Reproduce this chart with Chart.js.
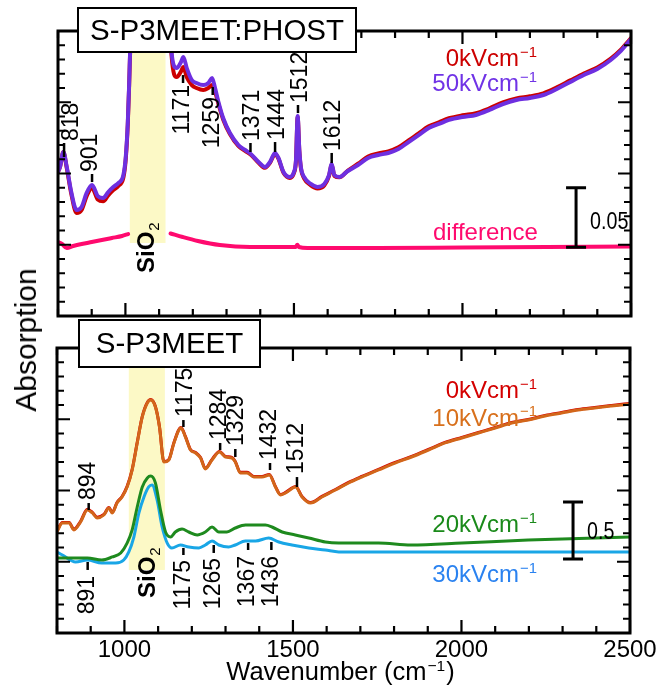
<!DOCTYPE html>
<html><head><meta charset="utf-8">
<script src="https://cdn.jsdelivr.net/npm/chart.js@4/dist/chart.umd.min.js"></script>
<style>
html,body{margin:0;padding:0;background:#fff;}
#wrap{position:relative;width:659px;height:696px;overflow:hidden;background:#fff;}
canvas{position:absolute;left:0;}
#cTop{top:0;}
#cBot{top:318px;}
#ylab{position:absolute;left:26px;top:340px;transform:translate(-50%,-50%) rotate(-90deg);font:30px 'Liberation Sans',Arial,sans-serif;white-space:nowrap;color:#000;}
</style></head>
<body><div id="wrap"><canvas id="cTop" width="659" height="322"></canvas><canvas id="cBot" width="659" height="378"></canvas><div id="ylab">Absorption</div></div>
<script>
const FONT = "'Liberation Sans', Arial, Helvetica, sans-serif";

// ---------------- data ----------------
// Upper panel: S-P3MEET:PHOST
const topWavenumbers = [800,806,816,826,840,855,870,885,901,918,934,949,964,979,994,1001,1007,1011,1015,1020,1026,1125,1130,1137,1152,1165,1172,1182,1197,1211,1231,1246,1257,1266,1276,1290,1310,1335,1355,1372,1395,1414,1429,1444,1454,1469,1488,1500,1506,1511,1516,1521,1530,1550,1570,1590,1604,1612,1620,1635,1660,1690,1720,1750,1780,1810,1840,1870,1900,1930,1960,2000,2040,2080,2120,2160,2200,2240,2280,2320,2360,2400,2440,2470,2500];
const top50kV = [0.1213,0.1255,0.1381,0.1255,0.1036,0.0893,0.0918,0.1036,0.1103,0.1010,
0.0994,0.1044,0.1086,0.1120,0.1187,0.1339,0.1625,0.1945,0.2324,0.2577,
0.30,0.30,0.26,0.2215,0.2088,0.2139,0.2181,0.2088,0.1987,0.1962,
0.1945,0.1962,0.2004,0.1920,0.1802,0.1667,0.1541,0.1440,0.1398,0.1364,
0.1297,0.1255,0.1297,0.1373,0.1331,0.1213,0.1171,0.1213,0.1314,0.1684,
0.1398,0.1246,0.1171,0.1112,0.1086,0.1112,0.1187,0.1280,0.1187,0.1171,
0.1221,0.1272,0.1331,0.1356,0.1373,0.1406,0.1465,0.1524,0.1583,0.1617,
0.1651,0.1676,0.1693,0.1735,0.1785,0.1819,0.1836,0.1861,0.1912,0.1971,
0.2029,0.2080,0.2156,0.2232,0.2333];
const top0kV = [0.1213,0.1255,0.1381,0.1245,0.1020,0.0868,0.0893,0.1010,0.1078,0.0980,
0.0966,0.1016,0.1060,0.1095,0.1165,0.1320,0.1610,0.1935,0.2315,0.2577,
0.30,0.30,0.26,0.2190,0.2012,0.2060,0.2097,0.2010,0.1945,0.1920,
0.1903,0.1920,0.1945,0.1890,0.1785,0.1655,0.1532,0.1432,0.1390,0.1358,
0.1290,0.1248,0.1290,0.1365,0.1325,0.1206,0.1163,0.1205,0.1305,0.1676,
0.1390,0.1238,0.1160,0.1100,0.1074,0.1100,0.1178,0.1272,0.1180,0.1168,
0.1225,0.1282,0.1343,0.1369,0.1386,0.1420,0.1478,0.1538,0.1597,0.1631,
0.1665,0.1690,0.1707,0.1749,0.1799,0.1833,0.1850,0.1875,0.1925,0.1984,
0.2042,0.2093,0.2168,0.2243,0.2340];
const diffWavenumbers = [800,812,826,845,870,900,930,960,990,1008,1011,1130,1134,1170,1215,1280,1370,1450,1505,1510,1515,1540,1750,2000,2250,2500];
const diffValues = [0.0623,0.0606,0.0573,0.0589,0.0606,0.0623,0.0640,0.0657,0.0674,0.0690,null,null,0.0695,0.0665,0.0632,0.0598,0.0581,0.0581,0.0581,0.0600,0.0581,0.0573,0.0573,0.0577,0.0581,0.0585];

// Lower panel: S-P3MEET
const botWavenumbers = [800,816,836,850,870,890,905,919,939,954,964,978,993,1008,1023,1038,1053,1068,1078,1092,1104,1117,1132,1147,1168,1181,1196,1211,1226,1240,1260,1282,1300,1319,1329,1344,1364,1384,1408,1430,1448,1463,1478,1508,1527,1552,1586,1626,1665,1704,1754,1803,1852,1902,1951,2001,2050,2100,2149,2198,2248,2297,2346,2395,2445,2500];
const bot10kV = [0.889,0.965,0.965,0.904,0.974,1.079,1.053,1.009,1.035,1.096,
1.053,1.140,1.193,1.281,1.430,1.667,1.895,2.018,2.044,1.982,
1.807,1.500,1.518,1.667,1.798,1.719,1.605,1.579,1.535,1.439,
1.518,1.588,1.544,1.535,1.500,1.404,1.404,1.368,1.368,1.386,
1.281,1.211,1.228,1.281,1.193,1.140,1.193,1.254,1.316,1.368,
1.430,1.491,1.544,1.605,1.667,1.711,1.754,1.798,1.842,1.868,
1.904,1.930,1.956,1.974,1.991,2.009];
const bot0kV = [0.895,0.970,0.970,0.910,0.980,1.085,1.058,1.015,1.040,1.100,
1.058,1.145,1.198,1.286,1.435,1.672,1.900,2.023,2.049,1.987,
1.812,1.505,1.523,1.672,1.803,1.724,1.610,1.584,1.540,1.444,
1.523,1.593,1.549,1.540,1.505,1.409,1.409,1.373,1.373,1.391,
1.286,1.216,1.233,1.286,1.198,1.145,1.198,1.259,1.321,1.373,
1.435,1.496,1.549,1.610,1.672,1.716,1.759,1.803,1.847,1.873,
1.909,1.935,1.961,1.979,1.996,2.014];
const bot20kVWavenumbers = [800,836,890,933,964,989,1008,1023,1038,1053,1068,1078,1092,1107,1122,1137,1151,1171,1191,1216,1240,1260,1280,1304,1329,1359,1389,1418,1438,1468,1507,1547,1596,1636,1754,1850,2001,2198,2500];
const bot20kV = [0.658,0.658,0.658,0.640,0.667,0.702,0.789,0.904,1.105,1.281,
1.360,1.377,1.316,1.079,0.886,0.842,0.886,0.912,0.886,0.860,
0.886,0.930,0.886,0.886,0.921,0.947,0.947,0.947,0.930,0.886,
0.860,0.833,0.798,0.789,0.789,0.772,0.789,0.816,0.842];
const bot30kVWavenumbers = [800,816,855,890,933,974,998,1013,1028,1043,1058,1072,1082,1097,1112,1127,1141,1166,1191,1221,1240,1260,1280,1309,1329,1359,1389,1428,1458,1497,1547,1596,1636,2000,2500];
const bot30kV = [0.711,0.684,0.623,0.640,0.614,0.614,0.640,0.711,0.842,1.053,
1.193,1.281,1.298,1.167,0.930,0.789,0.746,0.772,0.754,0.746,
0.772,0.807,0.772,0.754,0.772,0.807,0.807,0.833,0.798,0.772,
0.746,0.728,0.711,0.711,0.711];

// tick labels, titles and annotation texts
const xTickLabels = [1000, 1500, 2000, 2500];
const panelTitles = ['S-P3MEET:PHOST', 'S-P3MEET'];
const topPeakWavenumbers = [818, 901, 1171, 1259, 1371, 1444, 1512, 1612];
const botUpperPeakWavenumbers = [894, 1175, 1284, 1329, 1432, 1512];
const botLowerPeakWavenumbers = [891, 1175, 1265, 1367, 1436];
const topSeriesNames = ['0kVcm', '50kVcm', 'difference'];
const botSeriesNames = ['0kVcm', '10kVcm', '20kVcm', '30kVcm'];
const scaleBarValues = [0.05, 0.5];

// ---------------- annotation layout (positions, not data) ----------------
const topPeakMarks = [
  {y0:0.1339, y1:0.1457, side:'up',   dx:8, gap:2},
  {y0:0.1128, y1:0.1196, side:'up',   dx:-1, gap:2},
  {y0:0.1962, y1:0.2029, side:'down', dx:0, gap:2},
  {y0:0.1861, y1:0.1928, side:'down', dx:0, gap:2},
  {y0:0.1381, y1:0.1457, side:'up',   dx:2, gap:2},
  {y0:0.1381, y1:0.1465, side:'up',   dx:3, gap:2},
  {y0:0.1709, y1:0.1777, side:'up',   dx:3, gap:2},
  {y0:0.1288, y1:0.1373, side:'up',   dx:2, gap:2}
];
const botUpperMarks = [
  {y0:1.079, y1:1.140, side:'up', dx:0, gap:3},
  {y0:1.807, y1:1.868, side:'up', dx:2, gap:3},
  {y0:1.605, y1:1.667, side:'up', dx:0, gap:3},
  {y0:1.544, y1:1.614, side:'up', dx:1, gap:3},
  {y0:1.430, y1:1.491, side:'up', dx:0, gap:3},
  {y0:1.281, y1:1.368, side:'up', dx:0, gap:3}
];
const botLowerMarks = [
  {y0:0.553, y1:0.623, side:'down', dx:0, gap:6},
  {y0:0.684, y1:0.746, side:'down', dx:0, gap:5},
  {y0:0.702, y1:0.772, side:'down', dx:0, gap:5},
  {y0:0.728, y1:0.789, side:'down', dx:0, gap:6},
  {y0:0.728, y1:0.798, side:'down', dx:0, gap:6}
];

function pts(xs, ys) { return xs.map((v, i) => ({x: v, y: ys[i]})); }

function drawSupLabel(ctx, main, sup, xRight, yMid, color, size) {
  ctx.save();
  ctx.textAlign = 'left'; ctx.textBaseline = 'alphabetic'; ctx.fillStyle = color;
  ctx.font = size + 'px ' + FONT;
  const w1 = ctx.measureText(main).width;
  const ss = size * 0.62;
  ctx.font = ss + 'px ' + FONT;
  const w2 = sup ? ctx.measureText(sup).width + 1 : 0;
  const x0 = xRight - w1 - w2;
  const base = yMid + size * 0.36;
  ctx.font = size + 'px ' + FONT;
  ctx.fillText(main, x0, base);
  if (sup) { ctx.font = ss + 'px ' + FONT; ctx.fillText(sup, x0 + w1 + 1, base - size * 0.38); }
  ctx.restore();
}

const decoPlugin = {
  id: 'deco',
  beforeDatasetsDraw(chart, args, o) {
    const {ctx, chartArea: a} = chart; const x = chart.scales.x, y = chart.scales.y;
    ctx.save();
    ctx.fillStyle = '#fcf9c6';
    const x0 = x.getPixelForValue(o.band.from), x1 = x.getPixelForValue(o.band.to);
    const y0 = o.band.top === null ? a.top : y.getPixelForValue(o.band.top);
    const y1 = y.getPixelForValue(o.band.bottom);
    ctx.fillRect(x0, y0, x1 - x0, y1 - y0);
    ctx.restore();
  },
  afterDatasetsDraw(chart, args, o) {
    const {ctx, chartArea: a} = chart; const x = chart.scales.x, y = chart.scales.y;
    ctx.save();
    ctx.strokeStyle = '#000'; ctx.fillStyle = '#000';
    // inward ticks on all four sides
    ctx.lineWidth = 2.2; ctx.lineCap = 'butt';
    ctx.beginPath();
    for (let v = o.xTicks.min; v <= o.xTicks.max; v += o.xTicks.minor) {
      const px = x.getPixelForValue(v);
      const L = (v % o.xTicks.major === 0) ? 13 : 7;
      ctx.moveTo(px, a.bottom); ctx.lineTo(px, a.bottom - L);
      ctx.moveTo(px, a.top); ctx.lineTo(px, a.top + L);
    }
    for (let i = 0; i <= o.yTicks.count; i++) {
      const py = y.getPixelForValue(o.yTicks.min + i * o.yTicks.minor);
      const L = (i % o.yTicks.every === 0) ? 13 : 7;
      ctx.moveTo(a.left, py); ctx.lineTo(a.left + L, py);
      ctx.moveTo(a.right, py); ctx.lineTo(a.right - L, py);
    }
    ctx.stroke();
    // frame
    ctx.lineWidth = 3;
    ctx.strokeRect(a.left, a.top, a.right - a.left, a.bottom - a.top);
    // peak marks + labels
    ctx.lineWidth = 2.5;
    o.peaks.forEach(p => {
      const px = x.getPixelForValue(p.wn);
      const pa = y.getPixelForValue(p.y0), pb = y.getPixelForValue(p.y1);
      const t = Math.min(pa, pb), b = Math.max(pa, pb);
      ctx.beginPath(); ctx.moveTo(px, t); ctx.lineTo(px, b); ctx.stroke();
      ctx.save();
      ctx.font = '23px ' + FONT; ctx.textBaseline = 'middle'; ctx.fillStyle = '#000';
      if (p.side === 'up') { ctx.translate(px + p.dx, t - p.gap); ctx.textAlign = 'left'; }
      else { ctx.translate(px + p.dx, b + p.gap); ctx.textAlign = 'right'; }
      ctx.rotate(-Math.PI / 2);
      ctx.fillText(String(p.wn), 0, 0);
      ctx.restore();
    });
    // SiO2 label
    ctx.save();
    ctx.translate(x.getPixelForValue(o.sio2.x), y.getPixelForValue(o.sio2.y));
    ctx.rotate(-Math.PI / 2);
    ctx.fillStyle = '#000'; ctx.textAlign = 'left'; ctx.textBaseline = 'alphabetic';
    ctx.font = 'bold 24px ' + FONT;
    ctx.fillText('SiO', 0, 0);
    const w = ctx.measureText('SiO').width;
    ctx.font = '15px ' + FONT;
    ctx.fillText('2', w + 1, 5);
    ctx.restore();
    // series labels
    o.series.forEach(s => {
      drawSupLabel(ctx, s.main, s.sup, x.getPixelForValue(s.x), y.getPixelForValue(s.y), s.color, 24);
    });
    // scale bar
    const sb = o.scaleBar;
    const bx = x.getPixelForValue(sb.x), b0 = y.getPixelForValue(sb.y0), b1 = y.getPixelForValue(sb.y1);
    ctx.lineWidth = 3;
    ctx.beginPath();
    ctx.moveTo(bx, b0); ctx.lineTo(bx, b1);
    ctx.moveTo(bx - 10, b0); ctx.lineTo(bx + 10, b0);
    ctx.moveTo(bx - 10, b1); ctx.lineTo(bx + 10, b1);
    ctx.stroke();
    ctx.save();
    ctx.translate(bx + 14, y.getPixelForValue(sb.labelY));
    ctx.scale(0.82, 1);
    ctx.font = '24px ' + FONT; ctx.textAlign = 'left'; ctx.textBaseline = 'middle'; ctx.fillStyle = '#000';
    ctx.fillText(sb.label, 0, 1);
    ctx.restore();
    // title box
    const tb = o.titleBox;
    const tx = a.left + tb.dx, ty = a.top + tb.dy;
    ctx.fillStyle = '#fff'; ctx.fillRect(tx, ty, tb.w, tb.h);
    ctx.lineWidth = 2; ctx.strokeRect(tx, ty, tb.w, tb.h);
    ctx.fillStyle = '#000'; ctx.font = '29.5px ' + FONT; ctx.textAlign = 'center'; ctx.textBaseline = 'middle';
    ctx.fillText(tb.text, tx + tb.w / 2, ty + tb.h / 2 + 1.5);
    // x axis title
    if (o.xTitle) {
      ctx.textAlign = 'left'; ctx.textBaseline = 'alphabetic';
      ctx.font = '25.5px ' + FONT;
      const m1 = 'Wavenumber (cm', m2 = ')';
      const w1 = ctx.measureText(m1).width, w3 = ctx.measureText(m2).width;
      ctx.font = '15.5px ' + FONT;
      const sup = '\u22121';
      const w2 = ctx.measureText(sup).width + 2;
      const cx = (a.left + a.right) / 2 - 3;
      const base = a.bottom + 47;
      let sx = cx - (w1 + w2 + w3) / 2;
      ctx.font = '25.5px ' + FONT; ctx.fillText(m1, sx, base);
      ctx.font = '15.5px ' + FONT; ctx.fillText(sup, sx + w1 + 1, base - 9);
      ctx.font = '25.5px ' + FONT; ctx.fillText(m2, sx + w1 + w2, base);
    }
    ctx.restore();
  }
};

function lineDs(data, color, width) {
  return {data, borderColor: color, backgroundColor: color, borderWidth: width, pointRadius: 0,
    cubicInterpolationMode: 'monotone', spanGaps: false, fill: false,
    borderJoinStyle: 'round', borderCapStyle: 'round'};
}

const SUP = '\u22121';

// ---------------- upper panel ----------------
new Chart(document.getElementById('cTop'), {
  type: 'line',
  data: { datasets: [
    lineDs(pts(topWavenumbers, top50kV), '#6e2fe0', 4),
    lineDs(pts(topWavenumbers, top0kV), '#cc0000', 4),
    lineDs(pts(diffWavenumbers, diffValues), '#ff0a6e', 4)
  ]},
  options: {
    responsive: false, animation: false, devicePixelRatio: 1,
    layout: { padding: {top: 31, left: 58, right: 28, bottom: 6} },
    plugins: {
      legend: {display: false}, tooltip: {enabled: false},
      deco: {
        band: {from: 1013, to: 1119, top: null, bottom: 0.0615},
        xTicks: {min: 800, max: 2500, minor: 100, major: 500},
        yTicks: {min: 0, minor: 0.012, count: 20, every: 5},
        peaks: topPeakWavenumbers.map((wn, i) => Object.assign({wn}, topPeakMarks[i])),
        sio2: {x: 1085, y: 0.0362},
        series: [
          {main: topSeriesNames[0], sup: SUP, x: 2221, y: 0.2177, color: '#cc0000'},
          {main: topSeriesNames[1], sup: SUP, x: 2221, y: 0.1970, color: '#7033e6'},
          {main: topSeriesNames[2], sup: '', x: 2224, y: 0.0711, color: '#ff0a6e'}
        ],
        scaleBar: {x: 2337, y0: 0.058, y1: 0.058 + scaleBarValues[0], labelY: 0.0795, label: String(scaleBarValues[0])},
        titleBox: {dx: 20, dy: -23, w: 278, h: 44, text: panelTitles[0]},
        xTitle: false
      }
    },
    scales: {
      x: {type: 'linear', min: 800, max: 2500, display: false},
      y: {type: 'linear', min: 0, max: 0.24, display: false}
    }
  },
  plugins: [decoPlugin]
});

// ---------------- lower panel ----------------
new Chart(document.getElementById('cBot'), {
  type: 'line',
  data: { datasets: [
    lineDs(pts(botWavenumbers, bot10kV), '#d2661a', 3),
    lineDs(pts(botWavenumbers, bot0kV), '#d40000', 3),
    lineDs(pts(bot20kVWavenumbers, bot20kV), '#1e8a1e', 3),
    lineDs(pts(bot30kVWavenumbers, bot30kV), '#19a6e6', 3)
  ]},
  options: {
    responsive: false, animation: false, devicePixelRatio: 1,
    layout: { padding: {top: 30, left: 57, right: 29, bottom: 0} },
    plugins: {
      legend: {display: false}, tooltip: {enabled: false},
      deco: {
        band: {from: 1013, to: 1120, top: 2.333, bottom: 0.553},
        xTicks: {min: 800, max: 2500, minor: 100, major: 500},
        yTicks: {min: 0, minor: 0.125, count: 20, every: 5},
        peaks: botUpperPeakWavenumbers.map((wn, i) => Object.assign({wn}, botUpperMarks[i]))
          .concat(botLowerPeakWavenumbers.map((wn, i) => Object.assign({wn}, botLowerMarks[i]))),
        sio2: {x: 1091, y: 0.307},
        series: [
          {main: botSeriesNames[0], sup: SUP, x: 2224, y: 2.140, color: '#d40000'},
          {main: botSeriesNames[1], sup: SUP, x: 2224, y: 1.895, color: '#d8701c'},
          {main: botSeriesNames[2], sup: SUP, x: 2224, y: 0.960, color: '#1a8a1a'},
          {main: botSeriesNames[3], sup: SUP, x: 2224, y: 0.526, color: '#2a82f0'}
        ],
        scaleBar: {x: 2331, y0: 0.65, y1: 0.65 + scaleBarValues[1], labelY: 0.895, label: String(scaleBarValues[1])},
        titleBox: {dx: 22, dy: -28, w: 181, h: 47, text: panelTitles[1]},
        xTitle: true
      }
    },
    scales: {
      x: {
        type: 'linear', min: 800, max: 2500, position: 'bottom', bounds: 'data',
        grid: {display: false, drawTicks: false}, border: {display: false},
        ticks: {maxRotation: 0, autoSkip: false, padding: 3, color: '#000', font: {family: FONT, size: 24},
          callback: v => String(v)},
        afterBuildTicks: s => { s.ticks = xTickLabels.map(v => ({value: v})); },
        afterFit: s => { s.height = 63; s.paddingLeft = 0; s.paddingRight = 0; }
      },
      y: {type: 'linear', min: 0, max: 2.5, display: false}
    }
  },
  plugins: [decoPlugin]
});
</script></body></html>
